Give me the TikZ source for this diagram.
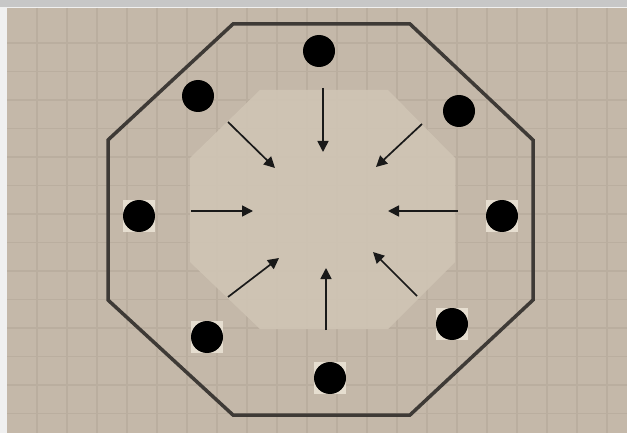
\documentclass[tikz,border=0pt]{standalone}
\usetikzlibrary{arrows.meta}
\definecolor{bgc}{RGB}{196,184,169}
\definecolor{gridc}{RGB}{186,174,159}
\definecolor{innerc}{RGB}{207,196,180}
\definecolor{outc}{RGB}{62,58,54}
\definecolor{sqc}{RGB}{230,222,208}
\tikzset{
  dot/.style={circle,fill=black,inner sep=0pt,minimum size=32pt},
  arr/.style={line width=1.7pt,-{Triangle[length=11pt,width=11pt]},black!90},
}
\begin{document}
\begin{tikzpicture}[x=1pt,y=-1pt]
\useasboundingbox (0,0) rectangle (627,433);
\fill[white!94!black] (0,0) rectangle (627,433);
\fill[black!22] (0,0) rectangle (627,7);
\fill[bgc] (7,8) rectangle (627,433);
% grid
\foreach \x in {0,...,19} {\draw[gridc,line width=1.3pt] ({37+30*\x},8) -- ({37+30*\x},433);}
\foreach \y in {0,...,13} {\draw[gridc,line width=1.3pt] (7,{43+28.5*\y}) -- (627,{43+28.5*\y});}
% inner octagon
\fill[innerc,fill opacity=0.92] (260,90) -- (388,90) -- (455,158) -- (455,262) -- (388,329) -- (260,329) -- (190,262) -- (190,158) -- cycle;
% outer octagon
\draw[outc,line width=3.5pt,line join=miter] (233,24) -- (410,24) -- (533,140) -- (533,300) -- (410,415) -- (233,415) -- (108,300) -- (108,140) -- cycle;
% squares behind some dots
\foreach \p in {(139,216),(502,216),(207,337),(330,378),(452,324)} {\fill[sqc] \p ++(-16,-16) rectangle ++(32,32);}
% dots
\node[dot] (dT) at (319,51) {};
\node[dot] (dTR) at (459,111) {};
\node[dot] (dR) at (502,216) {};
\node[dot] (dBR) at (452,324) {};
\node[dot] (dB) at (330,378) {};
\node[dot] (dBL) at (207,337) {};
\node[dot] (dL) at (139,216) {};
\node[dot] (dTL) at (198,96) {};
% arrow endpoints
\coordinate (aTs) at (323,88);  \coordinate (aTe) at (323,152);
\coordinate (aTRs) at (422,124); \coordinate (aTRe) at (376,167);
\coordinate (aRs) at (458,211); \coordinate (aRe) at (388,211);
\coordinate (aBRs) at (417,296); \coordinate (aBRe) at (373,252);
\coordinate (aBs) at (326,330); \coordinate (aBe) at (326,268);
\coordinate (aBLs) at (228,297); \coordinate (aBLe) at (279,258);
\coordinate (aLs) at (191,211); \coordinate (aLe) at (253,211);
\coordinate (aTLs) at (228,122); \coordinate (aTLe) at (275,168);
\draw[arr] (aTs) -- (aTe);
\draw[arr] (aTRs) -- (aTRe);
\draw[arr] (aRs) -- (aRe);
\draw[arr] (aBRs) -- (aBRe);
\draw[arr] (aBs) -- (aBe);
\draw[arr] (aBLs) -- (aBLe);
\draw[arr] (aLs) -- (aLe);
\draw[arr] (aTLs) -- (aTLe);
\end{tikzpicture}
\end{document}
